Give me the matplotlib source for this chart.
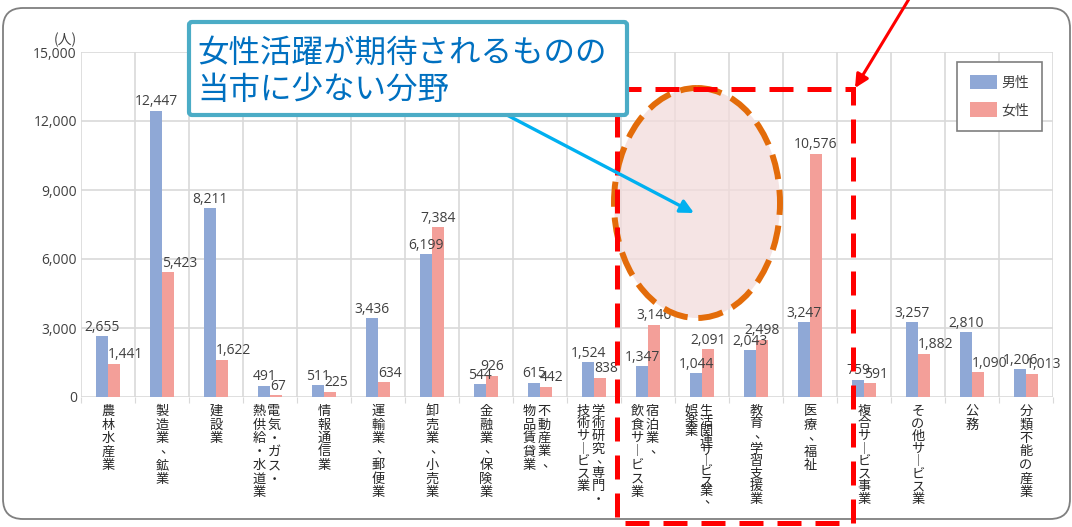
import matplotlib
matplotlib.use("Agg")
import matplotlib.pyplot as plt
from matplotlib.patches import FancyBboxPatch, Ellipse, Rectangle, FancyArrowPatch
from matplotlib.ticker import FuncFormatter
import numpy as np

plt.rcParams['font.family'] = ['Noto Sans CJK JP', 'DejaVu Sans']
NUM_FONT = ['Open Sans', 'DejaVu Sans']

# Industries (columns of vertical text separated by "\n", right column first)
categories = [
    "農林水産業",
    "製造業、鉱業",
    "建設業",
    "電気・ガス・\n熱供給・水道業",
    "情報通信業",
    "運輸業、郵便業",
    "卸売業、小売業",
    "金融業、保険業",
    "不動産業、\n物品賃貸業",
    "学術研究、専門・\n技術サービス業",
    "宿泊業、\n飲食サービス業",
    "生活関連サービス業、\n娯楽業",
    "教育、学習支援業",
    "医療、福祉",
    "複合サービス事業",
    "その他サービス業",
    "公務",
    "分類不能の産業",
]
male = [2655, 12447, 8211, 491, 511, 3436, 6199, 544, 615, 1524,
        1347, 1044, 2043, 3247, 759, 3257, 2810, 1206]
female = [1441, 5423, 1622, 67, 225, 634, 7384, 926, 442, 838,
          3146, 2091, 2498, 10576, 591, 1882, 1090, 1013]
series_names = ["男性", "女性"]
y_ticks = [0, 3000, 6000, 9000, 12000, 15000]

MALE_C = "#8FA8D6"
FEMALE_C = "#F39F99"
TEXT_C = "#404040"
GRID_C = "#D9D9D9"

W, H = 1072, 527
PT = 0.72  # points per pixel at 100 dpi
fig = plt.figure(figsize=(W / 100, H / 100), dpi=100)

# main plot area
left_px, right_px, top_px, bottom_px = 81, 1053, 52, 397
ax = fig.add_axes([left_px / W, 1 - bottom_px / H,
                   (right_px - left_px) / W, (bottom_px - top_px) / H])
n = len(categories)
x = np.arange(n)
bw = 0.215
ax.bar(x - bw / 2, male, width=bw, color=MALE_C, label=series_names[0], zorder=3)
ax.bar(x + bw / 2, female, width=bw, color=FEMALE_C, label=series_names[1], zorder=3)

ax.set_xlim(-0.5, n - 0.5)
ax.set_ylim(0, 15000)
ax.set_yticks(y_ticks)
ax.yaxis.set_major_formatter(FuncFormatter(lambda v, p: f"{int(v):,}"))
ax.tick_params(axis='y', length=0, pad=3, labelsize=10, labelcolor=TEXT_C)
for t in ax.get_yticklabels():
    t.set_family(NUM_FONT)
ax.set_xticks(np.arange(n + 1) - 0.5)
ax.set_xticklabels([])
ax.tick_params(axis='x', length=4, color=GRID_C)
for s in ax.spines.values():
    s.set_visible(False)
ax.grid(True, color=GRID_C, linewidth=1.2, zorder=0)
ax.set_axisbelow(True)

# value labels
for i in range(n):
    ax.annotate(f"{male[i]:,}", (x[i] - bw / 2, male[i]), xytext=(0, 1),
                textcoords='offset points', ha='center', va='bottom',
                fontsize=10, family=NUM_FONT, color=TEXT_C, zorder=4)
    if female[i] < male[i]:
        fx, fha = x[i], 'left'
    else:
        fx, fha = x[i] + bw / 2, 'center'
    ax.annotate(f"{female[i]:,}", (fx, female[i]), xytext=(0, 1),
                textcoords='offset points', ha=fha, va='bottom',
                fontsize=10, family=NUM_FONT, color=TEXT_C, zorder=4)

# unit label
ax.annotate("(人)", (0, 1), xycoords='axes fraction', xytext=(-4 * PT, 5 * PT),
            textcoords='offset points', ha='right', va='bottom', fontsize=10,
            color=TEXT_C, annotation_clip=False)

# vertical category labels (stacked glyphs, vertical-writing forms)
for i, lab in enumerate(categories):
    cols = lab.split("\n")
    longest = max(len(c) for c in cols)
    step = min(13.5, 100 / longest)
    offs = [0] if len(cols) == 1 else [4, -11]
    for col, dx in zip(cols, offs):
        for k, ch in enumerate(col):
            cx, cy = dx, 8 + k * step
            if ch == "ー":
                ch = "︱"
            elif ch == "、":
                cx += 5
                cy -= 2
            ax.annotate(ch, (x[i], 0), xycoords=('data', 'axes fraction'),
                        xytext=(cx * PT, -cy * PT), textcoords='offset points',
                        ha='center', va='top',
                        fontsize=9.5, color="#262626", annotation_clip=False)

# legend
leg = ax.legend(loc='upper right', bbox_to_anchor=(1042 / W, 1 - 62 / H),
                bbox_transform=fig.transFigure, borderaxespad=0, fontsize=10,
                handlelength=1.95, handleheight=1.2, handletextpad=0.3,
                labelspacing=0.9, borderpad=0.95, fancybox=False,
                edgecolor="#7F7F7F", framealpha=1)
leg.get_frame().set_linewidth(1.2)
for t in leg.get_texts():
    t.set_color(TEXT_C)

# overlay for frame and callouts (pixel coordinates)
ov = fig.add_axes([0, 0, 1, 1], zorder=10)
ov.set_xlim(0, W)
ov.set_ylim(H, 0)
ov.axis('off')
ov.patch.set_alpha(0)

ov.add_patch(FancyBboxPatch((3, 8), 1067, 511,
                            boxstyle="round,pad=0,rounding_size=20",
                            fill=False, edgecolor="#7F7F7F", linewidth=1.3))

# highlighted region
ov.add_patch(Ellipse((697, 203), 166, 230, facecolor="#F2DCDB", alpha=0.75,
                     edgecolor='none'))
ov.add_patch(Ellipse((697, 203), 166, 230, fill=False, edgecolor="#E36C0A",
                     linewidth=4.3, linestyle=(0, (4.2, 1.8))))
ov.add_patch(Rectangle((617, 89), 236, 434, fill=False, edgecolor="#FF0000",
                       linewidth=3.6, linestyle=(0, (4.8, 2.8))))

# arrows
ov.add_patch(FancyArrowPatch((912, -6), (855, 88), arrowstyle='-|>',
                             mutation_scale=20, color="#FF0000", linewidth=2.2,
                             shrinkA=0, shrinkB=0))
ov.add_patch(FancyArrowPatch((505, 114), (694, 213), arrowstyle='-|>',
                             mutation_scale=20, color="#00B0F0", linewidth=2.4,
                             shrinkA=0, shrinkB=0))

# callout box
ov.add_patch(FancyBboxPatch((189, 22), 438, 93,
                            boxstyle="round,pad=0,rounding_size=3",
                            facecolor="white", edgecolor="#4BACC6", linewidth=3))
ov.text(197, 53, "女性活躍が期待されるものの", fontsize=22.7, color="#0070C0",
        ha='left', va='center')
ov.text(197, 90, "当市に少ない分野", fontsize=22.7, color="#0070C0",
        ha='left', va='center')

fig.savefig("out.png", dpi=100)
